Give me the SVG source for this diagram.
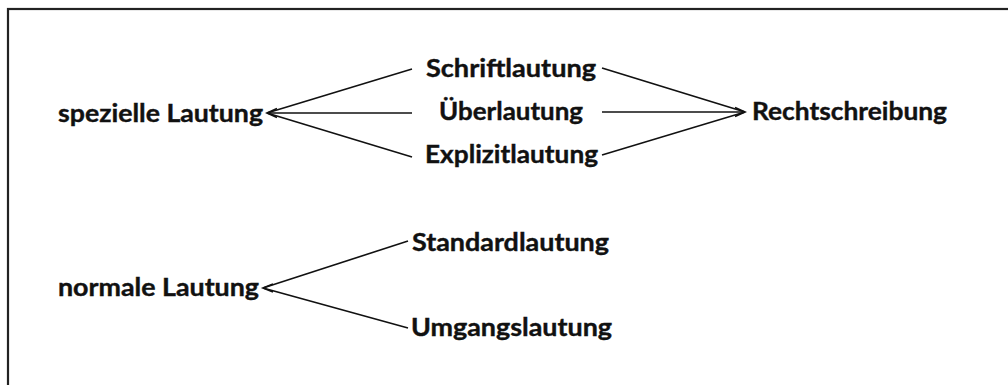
<svg xmlns="http://www.w3.org/2000/svg" width="1008" height="385" viewBox="0 0 1008 385">
  <style>
    .lbl { font-family: Lato, "Open Sans", "Liberation Sans", sans-serif; font-weight: 700; font-size: 25px; fill: #111; stroke: #111; stroke-width: 0.4; }
    .conn { stroke: #111; stroke-width: 1.6; fill: none; }
  </style>
  <defs>
    <marker id="chev" viewBox="-12 -6 14 12" refX="0" refY="0" markerWidth="14" markerHeight="12" markerUnits="userSpaceOnUse" orient="auto">
      <path d="M-10,-4.5 L0,0 L-10,4.5" fill="none" stroke="#111" stroke-width="1.8"/>
    </marker>
  </defs>
  <rect x="8" y="9" width="1012" height="392" fill="#fff" stroke="#222" stroke-width="2.2"/>

  <g id="connectors">
    <line class="conn" x1="412" y1="69" x2="267" y2="113"/>
    <line class="conn" x1="412" y1="113" x2="267" y2="113" stroke-width="2" marker-end="url(#chev)"/>
    <line class="conn" x1="412" y1="157" x2="267" y2="113"/>

    <line class="conn" x1="602" y1="68" x2="745" y2="112"/>
    <line class="conn" x1="602" y1="112" x2="745" y2="112" stroke-width="2" marker-end="url(#chev)"/>
    <line class="conn" x1="602" y1="155" x2="745" y2="112"/>

    <line class="conn" x1="408" y1="241" x2="263" y2="288"/>
    <line class="conn" x1="408" y1="328" x2="263" y2="288"/>
    <path class="conn" d="M273,284 L263,288 L273,292"/>
  </g>

  <g id="node-spezielle"><text class="lbl" x="58" y="122" textLength="205" lengthAdjust="spacingAndGlyphs">spezielle Lautung</text></g>
  <g id="node-schrift"><text class="lbl" x="426" y="77" textLength="170" lengthAdjust="spacingAndGlyphs">Schriftlautung</text></g>
  <g id="node-ueber"><text class="lbl" x="439" y="120" textLength="144" lengthAdjust="spacingAndGlyphs">Überlautung</text></g>
  <g id="node-explizit"><text class="lbl" x="425" y="163" textLength="173" lengthAdjust="spacingAndGlyphs">Explizitlautung</text></g>
  <g id="node-recht"><text class="lbl" x="752" y="120" textLength="195" lengthAdjust="spacingAndGlyphs">Rechtschreibung</text></g>
  <g id="node-normal"><text class="lbl" x="58" y="296" textLength="201" lengthAdjust="spacingAndGlyphs">normale Lautung</text></g>
  <g id="node-standard"><text class="lbl" x="412" y="251" textLength="197" lengthAdjust="spacingAndGlyphs">Standardlautung</text></g>
  <g id="node-umgang"><text class="lbl" x="411" y="336" textLength="201" lengthAdjust="spacingAndGlyphs">Umgangslautung</text></g>
</svg>
